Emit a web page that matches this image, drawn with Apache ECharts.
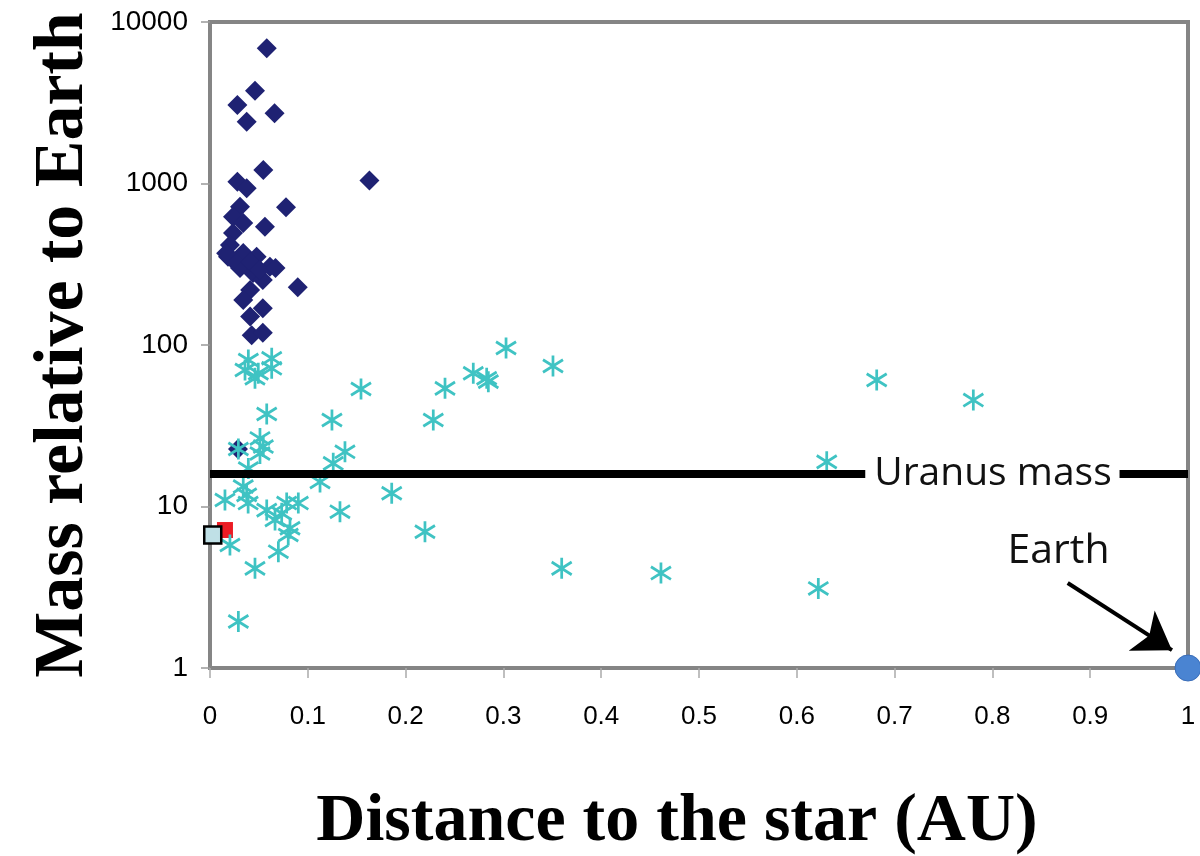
<!DOCTYPE html>
<html>
<head>
<meta charset="utf-8">
<script src="https://cdn.jsdelivr.net/npm/echarts@6/dist/echarts.min.js"></script>
<style>
html,body{margin:0;padding:0;background:#fff;overflow:hidden;}
#chart{width:1200px;height:856px;}
</style>
</head>
<body>
<div id="chart"></div>
<script>
// Distance to star (AU), mass relative to Earth
const giantPlanets = [
  [0.058, 6870], [0.046, 3755], [0.028, 3063], [0.0375, 2414], [0.066, 2722],
  [0.0545, 1213], [0.028, 1026], [0.0375, 934], [0.163, 1045], [0.0777, 712],
  [0.0307, 718], [0.0235, 623], [0.0562, 540], [0.034, 569], [0.0235, 494],
  [0.0204, 416], [0.0184, 352], [0.034, 371], [0.0477, 352], [0.0613, 305],
  [0.0307, 300], [0.044, 279], [0.054, 253], [0.0897, 228], [0.041, 219],
  [0.034, 190], [0.054, 169], [0.041, 150], [0.0426, 115], [0.054, 119],
  [0.0235, 336], [0.041, 326], [0.051, 291], [0.067, 300], [0.0165, 370],
  [0.0286, 22.7]
];
const lightPlanets = [
  [0.3027, 95.8], [0.3507, 74.1], [0.2692, 66.8], [0.2829, 62.2], [0.2846, 59.3],
  [0.2403, 53.9], [0.2283, 34.3], [0.1858, 12.07], [0.2198, 6.98], [0.3596, 4.14],
  [0.1544, 53.4], [0.1247, 34.3], [0.1380, 21.8], [0.126, 18.5], [0.1125, 14.2],
  [0.1329, 9.29], [0.0392, 80.7], [0.0631, 82.7], [0.0358, 70], [0.0494, 66.8],
  [0.0631, 71.7], [0.046, 62.2], [0.058, 37.4], [0.0511, 26.4], [0.0545, 23.5],
  [0.0511, 21.3], [0.029, 22.7], [0.0392, 17.2], [0.034, 13.3], [0.0375, 11.8],
  [0.0153, 10.97], [0.039, 10.5], [0.058, 9.5], [0.0784, 10.5], [0.0903, 10.5],
  [0.0733, 9.07], [0.0665, 8.25], [0.0818, 7.33], [0.080, 6.66], [0.0204, 5.78],
  [0.0699, 5.25], [0.046, 4.14], [0.029, 1.94], [0.6817, 60.7], [0.7805, 45.6],
  [0.6306, 18.9], [0.622, 3.11], [0.4611, 3.87]
];
const redPlanet = [[0.0153, 7.15]];
const bluePlanet = [[0.0028, 6.66]];
const earth = [[1, 1]];
const uranusMass = 16;
const uranusLabel = 'Uranus mass';
const earthLabel = 'Earth';
const xTicks = ['0','0.1','0.2','0.3','0.4','0.5','0.6','0.7','0.8','0.9','1'];
const yTicks = ['1','10','100','1000','10000'];

const starPath = 'path://M20,0L20,40M1,8L39,32M1,32L39,8';

const chart = echarts.init(document.getElementById('chart'));
chart.setOption({
  animation: false,
  backgroundColor: '#fff',
  grid: {left: 210, right: 12, top: 22, bottom: 188, show: true, containLabel: false,
         outerBoundsMode: 'none',
         borderColor: '#858585', borderWidth: 4, backgroundColor: 'transparent'},
  xAxis: {
    type: 'value', min: 0, max: 1, interval: 0.1,
    name: 'Distance to the star (AU)', nameLocation: 'middle', nameGap: 120,
    nameTextStyle: {fontFamily: '"Liberation Serif", serif', fontWeight: 'bold', fontSize: 68, color: '#000',
                    padding: [0, 44, 0, 0]},
    axisLine: {show: false},
    axisTick: {show: true, length: 10, lineStyle: {color: '#aaa', width: 1.5}},
    splitLine: {show: false},
    axisLabel: {margin: 36, fontFamily: '"Liberation Sans", Arial, sans-serif', fontSize: 26, color: '#000',
      formatter: (v) => { const i = Math.round(v * 10); return xTicks[i] !== undefined ? xTicks[i] : ''; }}
  },
  yAxis: {
    type: 'log', logBase: 10, min: 1, max: 10000,
    name: 'Mass relative to Earth', nameLocation: 'middle', nameGap: 110,
    nameTextStyle: {fontFamily: '"Liberation Serif", serif', fontWeight: 'bold', fontSize: 70, color: '#000'},
    axisLine: {show: false},
    axisTick: {show: true, length: 9, lineStyle: {color: '#999', width: 1.5}},
    splitLine: {show: false},
    minorTick: {show: false},
    axisLabel: {margin: 22, fontFamily: '"Liberation Sans", Arial, sans-serif', fontSize: 28, color: '#000',
      formatter: (v) => { const i = Math.round(Math.log10(v)); return yTicks[i] !== undefined ? yTicks[i] : ''; }}
  },
  series: [
    {
      name: 'giant', type: 'scatter', data: giantPlanets, symbol: 'diamond', symbolSize: [20, 20],
      itemStyle: {color: '#1f2273', opacity: 1}, clip: false, z: 2
    },
    {
      name: 'red', type: 'scatter', data: redPlanet, symbol: 'rect', symbolSize: 16,
      itemStyle: {color: '#ec1c24', opacity: 1}, clip: false, z: 2
    },
    {
      name: 'light', type: 'scatter', data: lightPlanets, symbol: starPath, symbolSize: [20, 21],
      itemStyle: {color: 'rgba(0,0,0,0)', borderColor: '#3fc3c3', borderWidth: 2.8, opacity: 1}, clip: false, z: 3
    },
    {
      name: 'blue', type: 'scatter', data: bluePlanet, symbol: 'rect', symbolSize: 17,
      itemStyle: {color: '#bfe0e6', borderColor: '#000', borderWidth: 2.5, opacity: 1}, clip: false, z: 4
    },
    {
      name: 'earth', type: 'scatter', data: earth, symbol: 'circle', symbolSize: 26,
      itemStyle: {color: '#4a84d2', borderColor: '#3a6db8', borderWidth: 1, opacity: 1}, clip: false, z: 5,
      markPoint: {
        silent: true, symbol: 'rect', symbolSize: 1, itemStyle: {color: 'rgba(0,0,0,0)'},
        label: {show: true, position: 'inside', formatter: earthLabel, color: '#111',
                fontFamily: '"Open Sans", sans-serif', fontSize: 41},
        data: [{coord: [0.8676, 5.27]}]
      },
      markLine: {
        silent: true, symbol: ['none', 'arrow'], symbolSize: 36,
        lineStyle: {color: '#000', width: 4, type: 'solid'}, label: {show: false},
        data: [[{coord: [0.877, 3.36]}, {coord: [0.9836, 1.29]}]]
      }
    },
    {
      name: 'uranus', type: 'line', data: [], z: 1,
      markLine: {
        silent: true, symbol: 'none',
        lineStyle: {color: '#000', width: 8, type: 'solid'}, label: {show: false},
        data: [
          [{coord: [0, uranusMass]}, {coord: [0.67, uranusMass]}],
          [{coord: [0.93, uranusMass]}, {coord: [1, uranusMass]}]
        ]
      },
      markPoint: {
        silent: true, symbol: 'rect', symbolSize: 1, itemStyle: {color: 'rgba(0,0,0,0)'},
        label: {show: true, position: 'inside', formatter: uranusLabel, color: '#111',
                fontFamily: '"Open Sans", sans-serif', fontSize: 39},
        data: [{coord: [0.8006, uranusMass]}]
      }
    }
  ]
});
</script>
</body>
</html>
